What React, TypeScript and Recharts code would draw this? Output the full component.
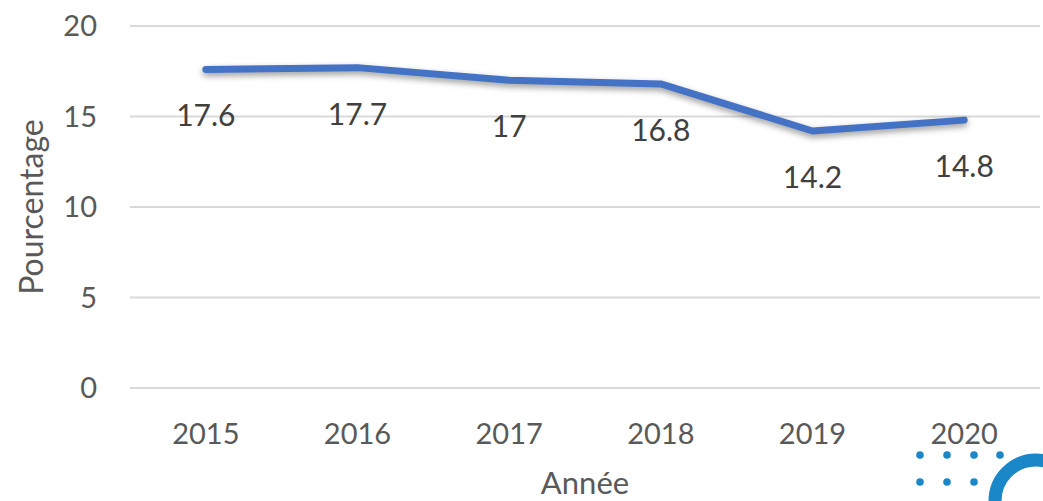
import React from "react";
import { LineChart, Line, XAxis, YAxis, CartesianGrid, LabelList, Label } from "recharts";

const years = ["2015", "2016", "2017", "2018", "2019", "2020"];
const values = [17.6, 17.7, 17, 16.8, 14.2, 14.8];
const yTicks = [0, 5, 10, 15, 20];

const data = years.map((y, i) => ({ year: y, value: values[i] }));

const FONT = "Lato, 'Open Sans', sans-serif";

const renderLabel = (props: any) => {
  const { x, y, value } = props;
  return (
    <text
      x={x}
      y={y + 45}
      textAnchor="middle"
      dominantBaseline="central"
      fill="#404040"
      fontSize={30}
      fontFamily={FONT}
    >
      {value}
    </text>
  );
};

export default function App() {
  return (
    <div style={{ position: "absolute", left: 0, top: 0, width: 1043, height: 501, background: "#fff", overflow: "hidden" }}>
      <style>{`.recharts-line-curve{filter:drop-shadow(0px 3px 3px rgba(0,0,0,0.4));}`}</style>
      <LineChart
        width={1043}
        height={501}
        data={data}
        margin={{ top: 26, right: 3, left: 0, bottom: 0 }}
      >
        <CartesianGrid vertical={false} stroke="#d9d9d9" strokeWidth={2} />
        <XAxis
          dataKey="year"
          scale="band"
          axisLine={false}
          tickLine={false}
          tickSize={0}
          tickMargin={35}
          height={113}
          tick={{ fill: "#595959", fontSize: 29, fontFamily: FONT }}
          interval={0}
        >
          <Label
            value="Année"
            content={(p: any) => {
              const vb = p.viewBox;
              return (
                <text
                  x={vb.x + vb.width / 2}
                  y={494}
                  textAnchor="middle"
                  fill="#595959"
                  fontSize={31}
                  fontFamily={FONT}
                >
                  Année
                </text>
              );
            }}
          />
        </XAxis>
        <YAxis
          domain={[0, 20]}
          ticks={yTicks}
          axisLine={false}
          tickLine={false}
          tickSize={0}
          tickMargin={33}
          width={130}
          tick={{ fill: "#595959", fontSize: 29, fontFamily: FONT }}
        >
          <Label
            value="Pourcentage"
            content={(p: any) => {
              const vb = p.viewBox;
              const cy = vb.y + vb.height / 2;
              return (
                <text
                  x={43}
                  y={cy}
                  transform={`rotate(-90, 43, ${cy})`}
                  textAnchor="middle"
                  fill="#595959"
                  fontSize={32}
                  fontFamily={FONT}
                >
                  Pourcentage
                </text>
              );
            }}
          />
        </YAxis>
        <Line
          type="linear"
          dataKey="value"
          stroke="#4472C4"
          strokeWidth={7}
          strokeLinecap="round"
          strokeLinejoin="round"
          dot={false}
          activeDot={false}
          isAnimationActive={false}
        >
          <LabelList dataKey="value" content={renderLabel} />
        </Line>
      </LineChart>
      <svg
        width={1043}
        height={501}
        style={{ position: "absolute", left: 0, top: 0, pointerEvents: "none" }}
      >
        <g fill="#1a87c9">
          <circle cx={920} cy={455} r={3.8} />
          <circle cx={947} cy={455} r={3.8} />
          <circle cx={974} cy={455} r={3.8} />
          <circle cx={1000} cy={455} r={3.8} />
          <circle cx={920} cy={482} r={3.8} />
          <circle cx={947} cy={482} r={3.8} />
          <circle cx={974} cy={482} r={3.8} />
        </g>
        <circle cx={1036} cy={501} r={41} fill="none" stroke="#1a87c9" strokeWidth={13} />
      </svg>
    </div>
  );
}
